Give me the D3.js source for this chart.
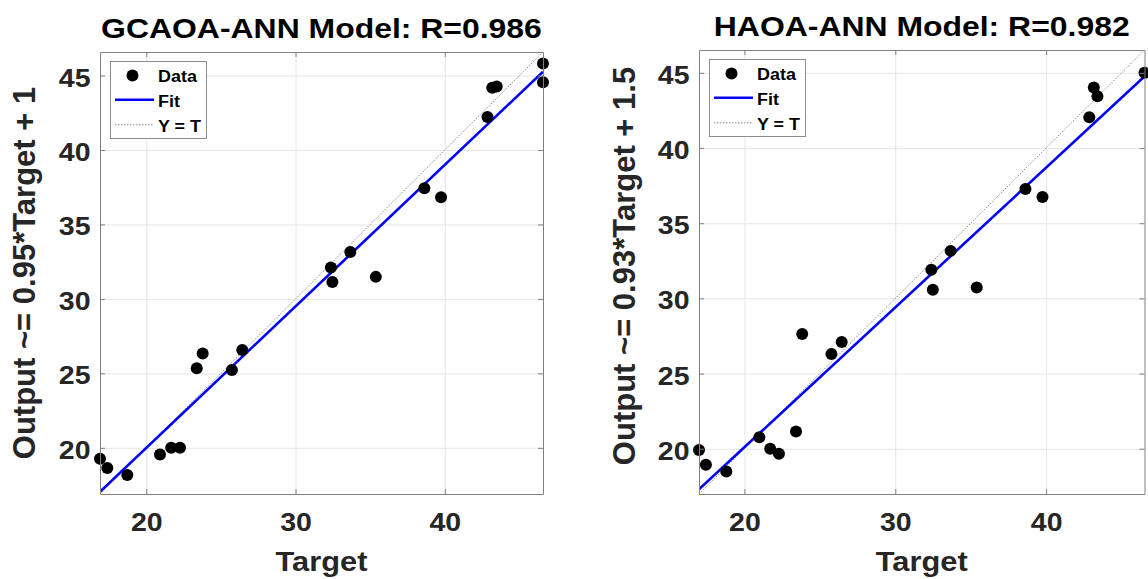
<!DOCTYPE html>
<html>
<head>
<meta charset="utf-8">
<script src="https://cdn.jsdelivr.net/npm/d3@7"></script>
<style>
  body { margin: 0; background: #fff; }
  svg { display: block; font-family: "Liberation Sans", Arial, sans-serif; font-weight: bold; }
</style>
</head>
<body>
<svg id="chart" width="1148" height="579"></svg>
<script>
// values
const targetsGC = [46.58, 46.58, 43.18, 43.48, 42.86, 38.63, 39.75, 32.37, 32.47, 33.67, 35.38,
                   23.38, 23.78, 25.74, 26.43, 16.9, 17.39, 18.73, 20.92, 21.67, 22.26];
const outputsGC = [45.8, 44.55, 44.18, 44.27, 42.21, 37.43, 36.82, 32.11, 31.13, 33.15, 31.48,
                   25.34, 26.34, 25.23, 26.57, 19.26, 18.64, 18.17, 19.55, 20.0, 20.0];
const targetsHA = [46.52, 43.16, 43.4, 42.86, 38.63, 39.76, 32.39, 32.49, 33.67, 35.4,
                   23.83, 25.77, 26.45, 16.99, 17.45, 18.8, 20.99, 21.71, 22.29, 23.42];
const outputsHA = [45.0, 44.03, 43.45, 42.04, 37.28, 36.75, 31.9, 30.57, 33.16, 30.72,
                   27.63, 26.3, 27.1, 19.91, 18.93, 18.49, 20.76, 20.0, 19.67, 21.15];
const fitGC = [0.95, 1];    // slope, intercept
const fitHA = [0.93, 1.5];
const titles = ['GCAOA-ANN Model: R=0.986', 'HAOA-ANN Model: R=0.982'];
const yLabels = ['Output ~= 0.95*Target + 1', 'Output ~= 0.93*Target + 1.5'];
const xLabel = 'Target';
const xTicks = [20, 30, 40];
const yTicks = [20, 25, 30, 35, 40, 45];
const legendLabels = ['Data', 'Fit', 'Y = T'];

// layout of the two panels
const panels = [
  { t: targetsGC, o: outputsGC, fit: fitGC, title: titles[0], ylab: yLabels[0],
    left: 100, right: 543, top: 52, bottom: 494, titleY: 38.3, ylabX: 35, ylabY: 273 },
  { t: targetsHA, o: outputsHA, fit: fitHA, title: titles[1], ylab: yLabels[1],
    left: 699, right: 1144.5, top: 50, bottom: 494, titleY: 36, ylabX: 635, ylabY: 266 }
];

const svg = d3.select('#chart');
const WIDEN = 1.14; // the picture's text is stretched sideways

function widen(sel, k) {
  sel.each(function () {
    const len = this.getComputedTextLength();
    this.setAttribute('textLength', len * k);
    this.setAttribute('lengthAdjust', 'spacingAndGlyphs');
  });
}

panels.forEach((p, i) => {
  const lim = d3.extent(p.t.concat(p.o));
  const x = d3.scaleLinear().domain(lim).range([p.left, p.right]);
  const y = d3.scaleLinear().domain(lim).range([p.bottom, p.top]);
  const w = p.right - p.left, h = p.bottom - p.top;
  const g = svg.append('g');

  svg.append('clipPath').attr('id', 'clip' + i)
    .append('rect').attr('x', p.left).attr('y', p.top).attr('width', w).attr('height', h);

  // grid
  g.append('g').attr('transform', `translate(0,${p.bottom})`)
    .call(d3.axisBottom(x).tickValues(xTicks).tickSize(-h).tickFormat(''))
    .call(a => a.select('.domain').remove())
    .selectAll('line').attr('stroke', '#e6e6e6');
  g.append('g').attr('transform', `translate(${p.left},0)`)
    .call(d3.axisLeft(y).tickValues(yTicks).tickSize(-w).tickFormat(''))
    .call(a => a.select('.domain').remove())
    .selectAll('line').attr('stroke', '#e6e6e6');

  // Y = T
  g.append('line').attr('clip-path', `url(#clip${i})`)
    .attr('x1', x(lim[0])).attr('y1', y(lim[0]))
    .attr('x2', x(lim[1])).attr('y2', y(lim[1]))
    .attr('stroke', '#8c8c8c').attr('stroke-width', 1).attr('stroke-dasharray', '1.5,1.5');

  // fit
  const fx = lim;
  g.append('line').attr('clip-path', `url(#clip${i})`)
    .attr('x1', x(fx[0])).attr('y1', y(p.fit[0] * fx[0] + p.fit[1]))
    .attr('x2', x(fx[1])).attr('y2', y(p.fit[0] * fx[1] + p.fit[1]))
    .attr('stroke', '#0000ff').attr('stroke-width', 2.6);

  // points
  g.append('g').selectAll('circle')
    .data(p.t.map((d, j) => [d, p.o[j]]))
    .join('circle')
    .attr('cx', d => x(d[0])).attr('cy', d => y(d[1]))
    .attr('r', 6).attr('fill', '#000');

  // axes (ticks inward, box on)
  const styleAxis = a => {
    a.select('.domain').attr('stroke', '#808080');
    a.selectAll('.tick line').attr('stroke', '#808080');
    a.selectAll('text').attr('fill', '#262626').attr('font-size', 25)
      .attr('font-family', '"Liberation Sans", Arial, sans-serif').attr('font-weight', 'bold');
  };
  const xa = g.append('g').attr('transform', `translate(0,${p.bottom})`)
    .call(d3.axisBottom(x).tickValues(xTicks).tickSizeInner(-5).tickSizeOuter(0).tickPadding(19))
    .call(styleAxis);
  xa.selectAll('text').attr('dy', '0.71em');
  g.append('g').attr('transform', `translate(0,${p.top})`)
    .call(d3.axisTop(x).tickValues(xTicks).tickSizeInner(-5).tickSizeOuter(0).tickFormat(''))
    .call(styleAxis);
  const ya = g.append('g').attr('transform', `translate(${p.left},0)`)
    .call(d3.axisLeft(y).tickValues(yTicks).tickSizeInner(-5).tickSizeOuter(0).tickPadding(9.5))
    .call(styleAxis);
  ya.selectAll('text').attr('dy', '0.42em');
  g.append('g').attr('transform', `translate(${p.right},0)`)
    .call(d3.axisRight(y).tickValues(yTicks).tickSizeInner(-5).tickSizeOuter(0).tickFormat(''))
    .call(styleAxis);
  widen(xa.selectAll('text'), WIDEN);
  widen(ya.selectAll('text'), WIDEN);

  // title and labels
  const cx = (p.left + p.right) / 2;
  g.append('text').attr('x', cx).attr('y', p.titleY).attr('text-anchor', 'middle')
    .attr('font-size', 28).attr('fill', '#000').text(p.title).call(widen, WIDEN);
  g.append('text').attr('x', cx).attr('y', 571).attr('text-anchor', 'middle')
    .attr('font-size', 27).attr('fill', '#262626').text(xLabel).call(widen, WIDEN);
  g.append('text').attr('transform', `translate(${p.ylabX},${p.ylabY}) rotate(-90)`)
    .attr('text-anchor', 'middle').attr('font-size', 31).attr('fill', '#262626').text(p.ylab);

  // legend
  const lg = g.append('g').attr('transform', `translate(${p.left + 10.5},${p.top + 9.5})`);
  lg.append('rect').attr('width', 96).attr('height', 77)
    .attr('fill', '#fff').attr('stroke', '#8c8c8c').attr('stroke-width', 1);
  lg.append('circle').attr('cx', 22).attr('cy', 14).attr('r', 6).attr('fill', '#000');
  lg.append('line').attr('x1', 4.5).attr('x2', 43.5).attr('y1', 38.3).attr('y2', 38.3)
    .attr('stroke', '#0000ff').attr('stroke-width', 2.6);
  lg.append('line').attr('x1', 4.5).attr('x2', 43.5).attr('y1', 63.3).attr('y2', 63.3)
    .attr('stroke', '#8c8c8c').attr('stroke-width', 1).attr('stroke-dasharray', '1.5,1.5');
  lg.selectAll('text.lab').data(legendLabels).join('text').attr('class', 'lab')
    .attr('x', 47.5).attr('y', (d, k) => 20.6 + k * 25)
    .attr('font-size', 16).attr('fill', '#000').text(d => d)
    .call(widen, 1.12);
});
</script>
</body>
</html>
